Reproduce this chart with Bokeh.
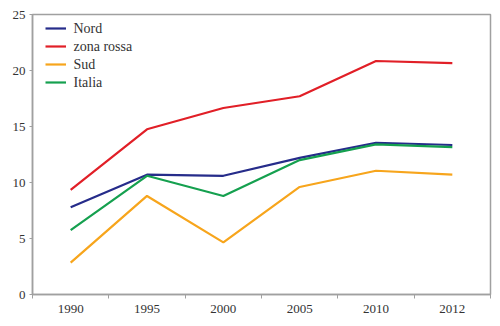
from bokeh.plotting import figure
from bokeh.models import FixedTicker, Range1d, Legend, LegendItem, ColumnDataSource, Label
from bokeh.embed import file_html
from bokeh.resources import INLINE

years = ["1990", "1995", "2000", "2005", "2010", "2012"]
nord = [7.8, 10.7, 10.6, 12.2, 13.55, 13.35]
zona_rossa = [9.35, 14.75, 16.65, 17.7, 20.85, 20.65]
sud = [2.85, 8.8, 4.65, 9.6, 11.05, 10.7]
italia = [5.75, 10.6, 8.8, 12.0, 13.4, 13.15]

series = [
    ("Nord", nord, "#262c8a"),
    ("zona rossa", zona_rossa, "#e11f27"),
    ("Sud", sud, "#f7a51c"),
    ("Italia", italia, "#15a04f"),
]

xs = [i + 0.5 for i in range(len(years))]
FONT = "Liberation Serif"
TXT = "#333333"
AX = "#a0a0a0"

p = figure(width=500, height=326, output_backend="svg", toolbar_location=None,
           x_range=Range1d(0, len(years)), y_range=Range1d(0, 25))
p.min_border_left = 32
p.min_border_right = 10
p.min_border_top = 14
p.min_border_bottom = 32
p.xgrid.visible = False
p.ygrid.visible = False
p.outline_line_color = AX
p.outline_line_width = 1.5
p.background_fill_color = "white"
p.border_fill_color = "white"

ROW = 18
LEG_X, LEG_Y = 13, 203
items = []
for name, vals, col in series:
    src = ColumnDataSource(dict(x=xs, y=vals))
    r = p.line("x", "y", source=src, line_color=col, line_width=2.2)
    items.append(LegendItem(label=name, renderers=[r]))

legend = Legend(items=items, location=(LEG_X, LEG_Y))
legend.margin = 0
legend.padding = 0
legend.spacing = 0
legend.border_line_color = None
legend.background_fill_alpha = 0
legend.glyph_width = 21
legend.glyph_height = ROW
legend.label_height = ROW
legend.label_standoff = 7
legend.label_text_font_size = "13px"
legend.label_text_alpha = 0
p.add_layout(legend, "center")

n = len(series)
for i, (name, _, _) in enumerate(series):
    p.add_layout(Label(x=LEG_X + 21 + 7, y=LEG_Y + (n - i - 0.5) * ROW,
                       x_units="screen", y_units="screen", text=name,
                       text_font=FONT, text_font_size="14px", text_color=TXT,
                       text_baseline="middle", text_align="left"))

xa = p.xaxis[0]
xa.ticker = FixedTicker(ticks=xs, minor_ticks=list(range(len(years) + 1)))
xa.major_label_overrides = {x: y for x, y in zip(xs, years)}
xa.major_tick_out = 0
xa.major_tick_in = 0
xa.minor_tick_out = 4
xa.minor_tick_in = 0
xa.minor_tick_line_color = AX
xa.axis_line_color = AX
xa.axis_line_width = 1.5
xa.major_label_text_font = FONT
xa.major_label_text_font_size = "13px"
xa.major_label_text_color = TXT
xa.major_label_standoff = 6

ya = p.yaxis[0]
ya.ticker = FixedTicker(ticks=[0, 5, 10, 15, 20, 25])
ya.major_tick_out = 3
ya.major_tick_in = 0
ya.minor_tick_out = 0
ya.minor_tick_in = 0
ya.major_tick_line_color = AX
ya.axis_line_color = AX
ya.axis_line_width = 1.5
ya.major_label_text_font = FONT
ya.major_label_text_font_size = "13px"
ya.major_label_text_color = TXT
ya.major_label_standoff = 4

open("out.html", "w").write(file_html(p, INLINE))
